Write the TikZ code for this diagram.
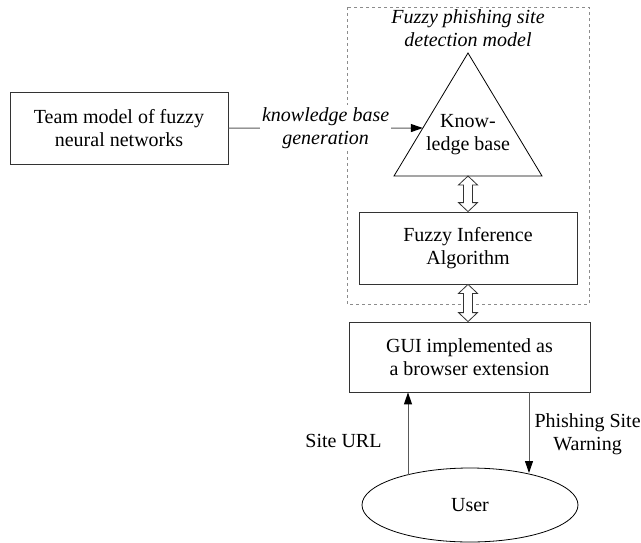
\documentclass[tikz,border=0pt]{standalone}
\usepackage{fontspec}
\setmainfont{LiberationSerif}[Extension=.ttf,UprightFont=*-Regular,ItalicFont=*-Italic,BoldFont=*-Bold]
\usetikzlibrary{arrows.meta,calc,shapes.geometric}
\tikzset{box/.style={draw=black!80,line width=0.8pt,minimum width=218pt,minimum height=72pt,align=center,inner sep=0pt},
  link/.style={draw=black!65,line width=1pt,-{Triangle[length=12pt,width=8pt,black]}},
  lbl/.style={align=center,inner sep=0pt}}
\newcommand{\twoway}[2]{\draw[draw=black!80,line width=0.8pt,fill=white] let \p1=(#1),\p2=(#2) in (\x1,\y1) -- ++(9.5pt,-9pt) -- ++(-5pt,0pt) -- (\x1+4.5pt,\y2+9pt) -- ++(5pt,0pt) -- (\x1,\y2) -- ++(-9.5pt,9pt) -- ++(5pt,0pt) -- (\x1-4.5pt,\y1-9pt) -- ++(-5pt,0pt) -- cycle;}

\begin{document}
\begin{tikzpicture}[x=1pt,y=-1pt,font=\fontsize{20}{23}\selectfont]
\useasboundingbox (0,0) rectangle (641,542);
\draw[black!45,dashed,line width=0.7pt] (347,7) rectangle (589,304);
\node[lbl,font=\fontsize{20}{23}\selectfont\itshape] (title) at (468,28) {Fuzzy phishing site\\detection model};
\coordinate (kbt) at (468,53); \coordinate (kbl) at (394,176); \coordinate (kbr) at (542,176);
\coordinate (kbb) at ($(kbl)!0.5!(kbr)$); \coordinate (kbin) at ($(kbt)!0.61!(kbl)$);
\draw[line width=0.8pt] (kbt)--(kbl)--(kbr)--cycle;
\node[lbl] (kb) at (468,135) {Know-\\ledge base};
\node[box] (team) at (119,128) {Team model of fuzzy\\neural networks};
\node[box] (fia) at (468,248) {Fuzzy Inference\\Algorithm};
\node[box,minimum width=241pt,minimum height=70pt] (gui) at (469.5,357) {GUI implemented as\\a browser extension};
\node[draw,ellipse,line width=0.8pt,minimum width=216pt,minimum height=74pt,inner sep=0pt] (user) at (470,505) {User};
\draw[link] (team.east) -- node[lbl,fill=white,inner sep=2pt,font=\fontsize{20}{23}\selectfont\itshape] (gen) {knowledge base\\generation} (kbin);
\twoway{kbb}{fia.north}
\twoway{fia.south}{gui.north}
\coordinate (url) at (408,475); \coordinate (warn) at (529,473);
\draw[link] (url) -- node[lbl,pos=0.41,left=26pt] (urltxt) {Site URL} (gui.south -| url);
\draw[link] (gui.south -| warn) -- node[lbl,pos=0.52,right=5pt] (warntxt) {Phishing Site\\Warning} (warn);
\end{tikzpicture}
\end{document}
